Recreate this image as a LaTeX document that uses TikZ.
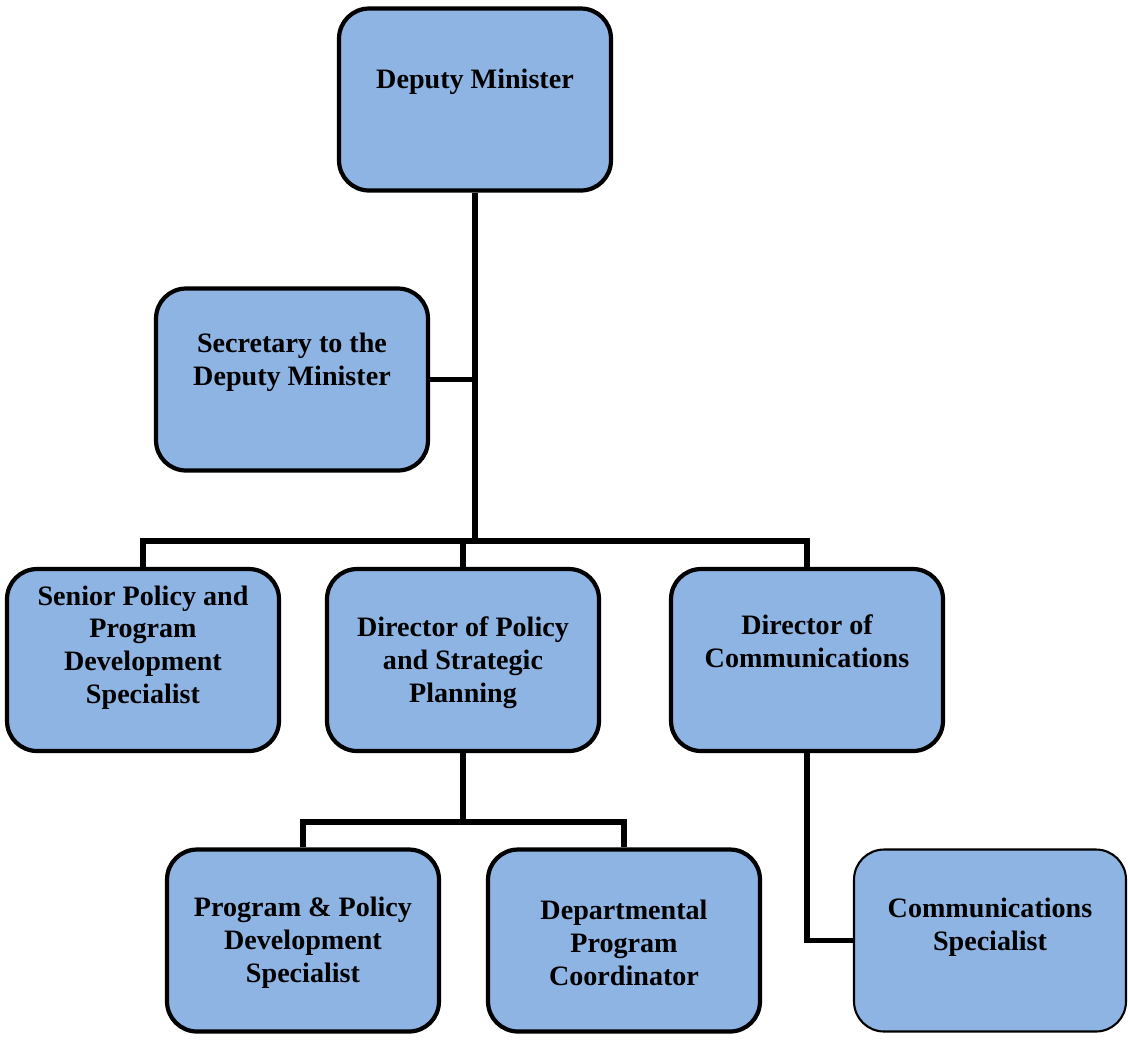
\documentclass[tikz,border=0pt]{standalone}
\usepackage{fontspec}
\setmainfont{Liberation Serif}
\definecolor{boxblue}{HTML}{8EB4E3}

\begin{document}
\begin{tikzpicture}[x=0.02cm,y=-0.02cm,
    post/.style={draw=black,fill=boxblue,rounded corners=0.6cm,line width=2.4pt,
        minimum width=5.44cm,minimum height=3.64cm,inner sep=0pt},
    txt/.style={font=\fontsize{16}{18.7}\selectfont\bfseries,align=center},
    link/.style={line width=3pt}]

    \useasboundingbox (0,0) rectangle (1128,1039);

    % top
    \node[post,label={[txt,yshift=0.36cm]center:Deputy Minister}] (dm) at (475,99.5) {};
    \node[post,label={[txt,yshift=0.35cm]center:Secretary to the\\Deputy Minister}] (sec) at (292,379.5) {};

    % second row
    \node[post,label={[txt,yshift=0.25cm]center:Senior Policy and\\Program\\Development\\Specialist}] (senior) at (143,660) {};
    \node[post,label={[txt,yshift=-0.05cm]center:Director of Policy\\and Strategic\\Planning}] (dirpol) at (463,660) {};
    \node[post,label={[txt,yshift=0.37cm]center:Director of\\Communications}] (dircom) at (807,660) {};

    % third row
    \node[post,label={[txt,yshift=-0.05cm]center:Program \& Policy\\Development\\Specialist}] (progpol) at (303,940.5) {};
    \node[post,label={[txt,yshift=-0.05cm]center:Departmental\\Program\\Coordinator}] (dept) at (624,940.5) {};
    \node[post,line width=1.2pt,label={[txt,yshift=0.27cm]center:Communications\\Specialist}] (comspec) at (990,940.5) {};

    % connectors
    \coordinate (bar) at (475,541);
    \coordinate (split) at (463,822);
    \draw[link] (dm.south) -- (bar);
    \draw[link] (sec.east) -- (sec.east -| dm.south);
    \draw[link] (senior.north) |- (bar) -| (dircom.north);
    \draw[link] (dirpol.north) -- (dirpol.north |- bar);
    \draw[link] (dirpol.south) -- (split);
    \draw[link] (progpol.north) |- (split) -| (dept.north);
    \draw[link] (dircom.south) |- (comspec.west);
\end{tikzpicture}
\end{document}
